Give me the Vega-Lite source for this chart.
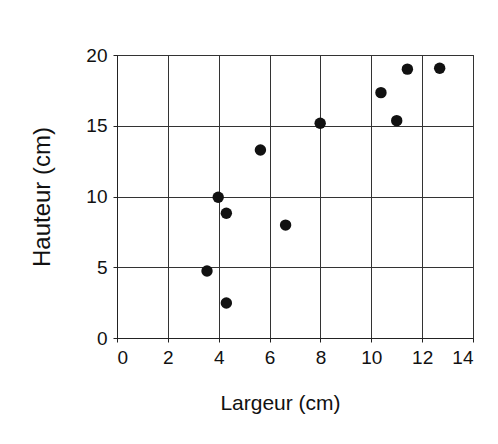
{
  "$schema": "https://vega.github.io/schema/vega-lite/v6.json",
  "autosize": "none",
  "width": 356,
  "height": 283,
  "padding": {"left": 117, "top": 55, "right": 25, "bottom": 106},
  "background": "white",
  "config": {
    "view": {"stroke": "#222", "strokeWidth": 1},
    "axis": {
      "grid": true,
      "gridColor": "#333",
      "gridOpacity": 1,
      "gridWidth": 1,
      "domainColor": "#222",
      "tickColor": "#222",
      "tickSize": 4,
      "labelFont": "Liberation Sans, Arial",
      "labelFontSize": 19,
      "labelColor": "#111",
      "titleColor": "#111",
      "titleFont": "Liberation Sans, Arial",
      "titleFontWeight": "normal"
    }
  },
  "data": {
    "values": [
      {"largeur": 11.42, "hauteur": 19.0},
      {"largeur": 12.69, "hauteur": 19.06},
      {"largeur": 10.38, "hauteur": 17.34},
      {"largeur": 11.0, "hauteur": 15.36},
      {"largeur": 7.99, "hauteur": 15.18},
      {"largeur": 5.64, "hauteur": 13.29},
      {"largeur": 3.98, "hauteur": 9.95},
      {"largeur": 4.3, "hauteur": 8.82},
      {"largeur": 6.63, "hauteur": 7.98},
      {"largeur": 3.54, "hauteur": 4.73},
      {"largeur": 4.3, "hauteur": 2.47}
    ]
  },
  "mark": {"type": "circle", "size": 130, "color": "#111", "opacity": 1},
  "encoding": {
    "x": {
      "field": "largeur",
      "type": "quantitative",
      "title": "Largeur (cm)",
      "scale": {"domain": [0, 14], "nice": false, "zero": true},
      "axis": {
        "values": [0, 2, 4, 6, 8, 10, 12, 14],
        "labelPadding": 6,
        "titlePadding": 25,
        "titleFontSize": 21,
        "titleX": 163
      }
    },
    "y": {
      "field": "hauteur",
      "type": "quantitative",
      "title": "Hauteur (cm)",
      "scale": {"domain": [0, 20], "nice": false},
      "axis": {
        "values": [0, 5, 10, 15, 20],
        "labelPadding": 6,
        "titlePadding": 31,
        "titleFontSize": 24
      }
    }
  }
}
